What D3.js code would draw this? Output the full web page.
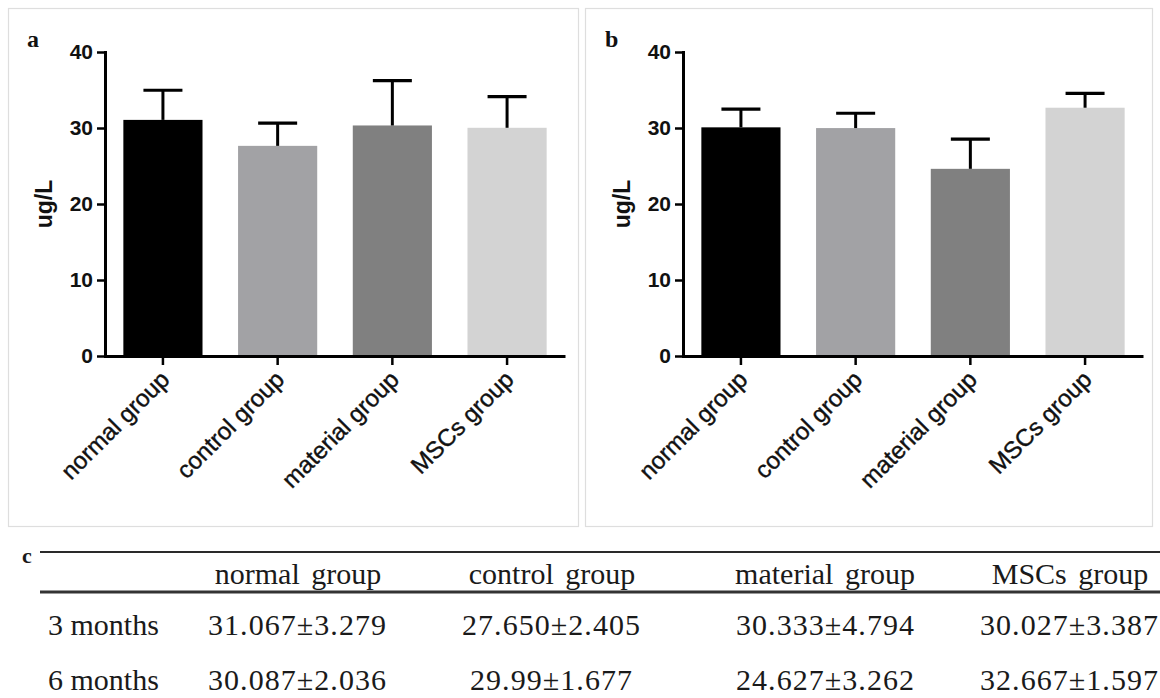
<!DOCTYPE html>
<html>
<head>
<meta charset="utf-8">
<script src="https://cdn.jsdelivr.net/npm/d3@7"></script>
<style>
  body { margin: 0; background: #fff; }
  svg { display: block; }
</style>
</head>
<body>
<svg id="chart" width="1160" height="698"></svg>
<script>
// ---------- data ----------
const categories = ["normal group", "control group", "material group", "MSCs group"];
const barColors = ["#000000", "#a2a2a5", "#808080", "#d3d3d3"];
// panel a (3 months)
const means3 = [31.067, 27.650, 30.333, 30.027];
const errBar3 = [3.9, 3.0, 5.9, 4.1];      // error bars as drawn in the chart
// panel b (6 months)
const means6 = [30.087, 29.99, 24.627, 32.667];
const errBar6 = [2.4, 1.95, 3.9, 1.9];
const yTicks = [0, 10, 20, 30, 40];
const panelLetters = ["a", "b"];
const yTitle = "ug/L";
// table c
const tableLetter = "c";
const rowLabels = ["3 months", "6 months"];
const tableRow3 = ["31.067\u00B13.279", "27.650\u00B12.405", "30.333\u00B14.794", "30.027\u00B13.387"];
const tableRow6 = ["30.087\u00B12.036", "29.99\u00B11.677", "24.627\u00B13.262", "32.667\u00B11.597"];

// ---------- drawing ----------
const svg = d3.select("#chart");
const SANS = "'Liberation Sans', Arial, Helvetica, sans-serif";
const SERIF = "'Liberation Serif', 'Times New Roman', Times, serif";

function drawPanel(ox, boxX, boxW, means, errs, letter) {
  svg.append("rect")
    .attr("x", boxX + 0.5).attr("y", 8.5)
    .attr("width", boxW).attr("height", 518)
    .attr("fill", "none").attr("stroke", "#dedede").attr("stroke-width", 1.2);

  const y = d3.scaleLinear().domain([0, 40]).range([356, 52]);
  const x = d3.scaleBand().domain(categories)
    .range([105 + ox, 565 + ox]).paddingInner(0.31).paddingOuter(0.16);

  const g = svg.append("g");

  // bars
  g.selectAll("rect.bar").data(categories).join("rect")
    .attr("class", "bar")
    .attr("x", d => x(d))
    .attr("y", (d, i) => y(means[i]))
    .attr("width", x.bandwidth())
    .attr("height", (d, i) => y(0) - y(means[i]))
    .attr("fill", (d, i) => barColors[i]);

  // error bars (upper only)
  const capW = 39;
  g.selectAll("line.err").data(categories).join("line")
    .attr("class", "err")
    .attr("x1", d => x(d) + x.bandwidth() / 2)
    .attr("x2", d => x(d) + x.bandwidth() / 2)
    .attr("y1", (d, i) => y(means[i]))
    .attr("y2", (d, i) => y(means[i] + errs[i]))
    .attr("stroke", "#000").attr("stroke-width", 3);
  g.selectAll("line.cap").data(categories).join("line")
    .attr("class", "cap")
    .attr("x1", d => x(d) + x.bandwidth() / 2 - capW / 2)
    .attr("x2", d => x(d) + x.bandwidth() / 2 + capW / 2)
    .attr("y1", (d, i) => y(means[i] + errs[i]))
    .attr("y2", (d, i) => y(means[i] + errs[i]))
    .attr("stroke", "#000").attr("stroke-width", 3.2);

  // y axis
  const ya = svg.append("g")
    .attr("transform", `translate(${105 + ox},0)`)
    .call(d3.axisLeft(y).tickValues(yTicks).tickSize(8).tickSizeOuter(0).tickPadding(4));
  ya.select(".domain").attr("stroke-width", 3).attr("stroke-linecap", "square");
  ya.selectAll(".tick line").attr("stroke-width", 2.5);
  ya.selectAll("text")
    .attr("font-family", SANS).attr("font-weight", "bold")
    .attr("font-size", 21).attr("fill", "#111");

  // x axis
  const xa = svg.append("g")
    .attr("transform", `translate(0,${y(0)})`)
    .call(d3.axisBottom(x).tickSize(9).tickSizeOuter(0));
  xa.select(".domain").attr("stroke-width", 3);
  xa.selectAll(".tick line").attr("stroke-width", 2.5);
  xa.selectAll("text")
    .attr("x", null).attr("y", null).attr("dy", null)
    .attr("text-anchor", "end")
    .attr("transform", "translate(8,25) rotate(-45)")
    .attr("font-family", SANS).attr("font-size", 24)
    .attr("stroke", "#111").attr("stroke-width", 0.4)
    .attr("fill", "#111");

  // y title
  svg.append("text")
    .attr("transform", `translate(${44 + ox},204) rotate(-90)`)
    .attr("text-anchor", "middle").attr("dominant-baseline", "central")
    .attr("font-family", SANS).attr("font-weight", "bold").attr("font-size", 23)
    .attr("fill", "#111")
    .text(yTitle);

  // panel letter
  svg.append("text")
    .attr("x", 27 + ox).attr("y", 47)
    .attr("font-family", SERIF).attr("font-weight", "bold").attr("font-size", 24)
    .attr("fill", "#111")
    .text(letter);
}

drawPanel(0, 8, 570, means3, errBar3, panelLetters[0]);
drawPanel(578, 585, 567, means6, errBar6, panelLetters[1]);

// ---------- table c ----------
const headX = [298, 552, 825, 1070];
const valX = [297, 551, 825, 1069];
const tg = svg.append("g").attr("font-family", SERIF).attr("fill", "#1a1a1a");

tg.append("text").attr("x", 22).attr("y", 563)
  .attr("font-weight", "bold").attr("font-size", 22).text(tableLetter);

tg.append("line").attr("x1", 40).attr("x2", 1160).attr("y1", 552).attr("y2", 552)
  .attr("stroke", "#2a2a2a").attr("stroke-width", 2.2);
tg.append("line").attr("x1", 40).attr("x2", 1160).attr("y1", 592).attr("y2", 592)
  .attr("stroke", "#333").attr("stroke-width", 3);

tg.selectAll("text.head").data(categories).join("text")
  .attr("class", "head")
  .attr("x", (d, i) => headX[i]).attr("y", 584)
  .attr("text-anchor", "middle").attr("font-size", 30)
  .attr("word-spacing", 4)
  .text(d => d);

const rows = [tableRow3, tableRow6];
const rowY = [635, 690];
rows.forEach((row, r) => {
  tg.append("text").attr("x", 48).attr("y", rowY[r])
    .attr("font-size", 30).text(rowLabels[r]);
  tg.selectAll(null).data(row).join("text")
    .attr("x", (d, i) => valX[i]).attr("y", rowY[r])
    .attr("text-anchor", "middle").attr("font-size", 30)
    .attr("textLength", d => d.length > 11 ? 178 : 162)
    .attr("lengthAdjust", "spacing")
    .text(d => d);
});
</script>
</body>
</html>
